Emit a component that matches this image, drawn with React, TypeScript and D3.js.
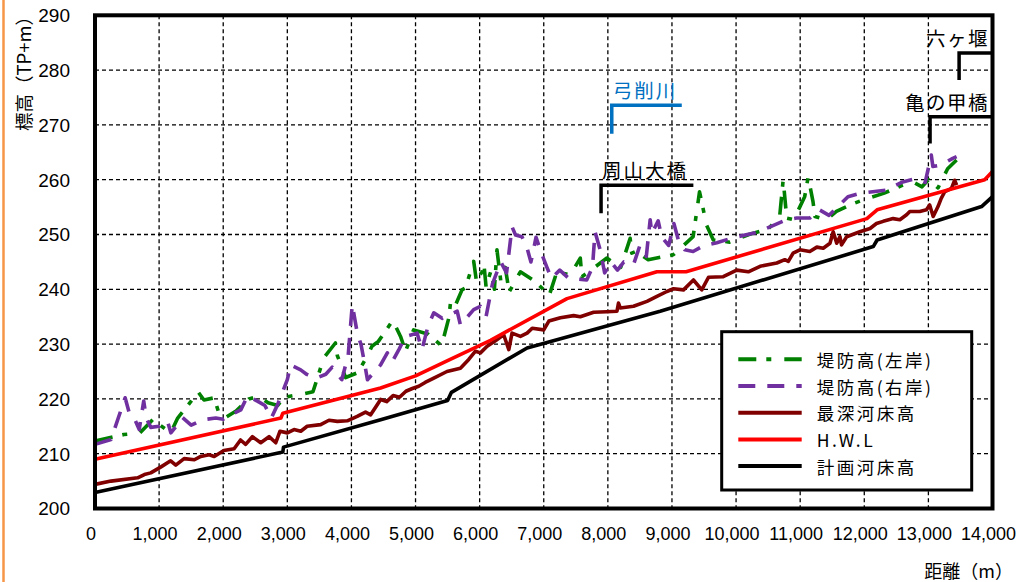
import * as d3 from "d3";

type Pt = [number, number];

// 距離(m), 標高(TP+m)
const leftBank: Pt[] = [
  [0, 212.3], [450, 213.5], [700, 213.8], [900, 216.2], [1180, 213.8], [1290, 216.5],
  [1500, 219.6], [1600, 221.4], [1700, 219.8], [1860, 220.2], [1940, 217.1], [2020, 216.5],
  [2200, 217.8], [2400, 220.0], [2550, 220.5], [2700, 219.3], [2850, 218.8], [2950, 220.3],
  [3200, 220.8], [3400, 221.3], [3570, 227.5], [3750, 230.2], [3780, 227.9], [3910, 223.9],
  [4100, 224.8], [4250, 227.9], [4320, 229.6], [4420, 230.5], [4650, 234.4], [4700, 233.0],
  [4766, 231.4], [4845, 228.7], [4970, 232.6], [5200, 231.8], [5415, 229.6], [5440, 231.2],
  [5520, 234.8], [5545, 237.5], [5600, 236.5], [5725, 239.9], [5780, 240.3], [5907, 245.1],
  [5950, 241.5], [5985, 242.3], [6040, 243.2], [6065, 244.8], [6100, 240.5], [6180, 243.5],
  [6230, 240.0], [6270, 247.2], [6330, 241.5], [6400, 244.0], [6460, 239.5], [6635, 243.2],
  [6868, 241.4], [6975, 240.2], [7080, 238.7], [7205, 243.2], [7413, 242.6], [7570, 245.7],
  [7595, 242.3], [7700, 243.2], [7985, 245.7], [8090, 244.8], [8200, 244.0], [8348, 249.3],
  [8372, 246.6], [8500, 247.2], [8555, 246.0], [8630, 245.4], [9020, 246.3], [9330, 249.6],
  [9430, 257.8], [9540, 251.7], [9645, 249.0], [9900, 248.6], [10200, 250.0], [10500, 251.0],
  [10680, 253.3], [10735, 260.0], [10790, 253.0], [10900, 252.7], [11070, 256.9], [11125, 260.5],
  [11200, 256.0], [11230, 253.3], [11410, 252.7], [11565, 254.2], [11775, 255.4], [11980, 256.3],
  [12300, 257.5], [12600, 259.0], [12760, 259.6], [12900, 258.7], [13000, 260.0], [13150, 258.5],
  [13300, 262.0], [13440, 263.6],
];

const rightBank: Pt[] = [
  [0, 211.7], [250, 212.6], [470, 220.2], [535, 217.4], [600, 216.8], [690, 214.4],
  [760, 219.6], [800, 216.5], [870, 214.8], [1000, 215.0], [1130, 216.0], [1183, 213.8],
  [1287, 215.3], [1365, 216.6], [1500, 215.2], [1677, 216.2], [1884, 216.5], [2000, 216.3],
  [2118, 217.1], [2274, 218.0], [2378, 220.5], [2534, 219.6], [2650, 218.8], [2750, 216.5],
  [2850, 219.0], [3000, 223.5], [3053, 226.2], [3208, 225.3], [3300, 224.5], [3450, 223.8],
  [3600, 224.5], [3700, 225.8], [3850, 223.5], [3950, 228.0], [4013, 237.2], [4090, 232.1],
  [4150, 229.9], [4200, 226.8], [4250, 223.5], [4455, 226.2], [4560, 228.4], [4636, 226.8],
  [4740, 229.0], [4845, 231.4], [5025, 232.0], [5100, 229.0], [5200, 233.5], [5285, 235.7],
  [5415, 234.7], [5518, 235.3], [5650, 236.0], [5700, 233.5], [5907, 236.3], [6012, 236.9],
  [6100, 235.0], [6200, 241.0], [6330, 245.0], [6420, 243.0], [6505, 251.4], [6560, 249.9],
  [6660, 249.6], [6740, 247.5], [6800, 245.0], [6880, 249.5], [6950, 247.0], [7050, 244.0],
  [7120, 242.0], [7250, 243.5], [7390, 242.0], [7670, 241.7], [7760, 244.0], [7800, 250.5],
  [7880, 247.2], [7950, 243.0], [8050, 245.0], [8150, 243.5], [8250, 245.0], [8400, 244.5],
  [8500, 248.0], [8600, 246.0], [8660, 252.7], [8686, 250.2], [8785, 252.5], [8840, 249.5],
  [8950, 248.0], [9030, 252.0], [9100, 249.0], [9200, 247.2], [9330, 246.9], [9500, 248.0],
  [9700, 248.5], [9950, 249.4], [10300, 250.3], [10530, 251.4], [10790, 252.7], [10945, 253.0],
  [11150, 253.0], [11300, 254.5], [11450, 253.5], [11745, 256.9], [11930, 257.5], [12345, 258.1],
  [12600, 259.6], [12810, 260.2], [12950, 259.5], [13045, 264.5], [13070, 262.4], [13200, 262.7],
  [13380, 263.9], [13440, 264.2],
];

const deepestBed: Pt[] = [
  [0, 204.4], [250, 205.0], [665, 205.6], [770, 206.2], [870, 206.5], [1030, 207.6],
  [1180, 208.7], [1260, 207.9], [1390, 209.1], [1550, 208.9], [1650, 209.5], [1780, 209.8],
  [1860, 209.5], [2010, 210.6], [2170, 210.9], [2270, 212.5], [2350, 211.7], [2455, 213.1],
  [2585, 212.0], [2715, 213.1], [2820, 212.0], [2886, 214.1], [3000, 213.8], [3105, 214.4],
  [3210, 214.1], [3310, 215.0], [3520, 215.3], [3650, 216.1], [3780, 215.9], [3935, 216.0],
  [4090, 216.8], [4220, 217.6], [4300, 217.1], [4400, 218.9], [4455, 219.9], [4550, 219.5],
  [4650, 220.6], [4750, 220.3], [4850, 221.4], [4950, 221.9], [5050, 222.3], [5150, 223.0],
  [5285, 223.8], [5490, 225.0], [5700, 225.6], [5830, 227.2], [5935, 228.7], [6012, 228.4],
  [6117, 229.6], [6246, 230.6], [6375, 231.7], [6455, 229.0], [6505, 232.0], [6636, 231.4],
  [6740, 232.0], [6820, 232.9], [7000, 232.6], [7080, 234.2], [7260, 234.8], [7466, 235.2],
  [7570, 235.0], [7778, 235.8], [7986, 235.9], [8142, 236.0], [8166, 237.5], [8193, 236.6],
  [8400, 236.9], [8610, 237.8], [8765, 238.7], [8920, 239.6], [9024, 240.1], [9180, 239.9],
  [9335, 241.7], [9465, 239.9], [9570, 242.2], [9800, 242.3], [10010, 243.5], [10190, 243.2],
  [10375, 244.2], [10635, 244.8], [10760, 245.4], [10815, 245.1], [10890, 246.6], [10995, 247.2],
  [11150, 246.9], [11260, 247.7], [11360, 247.5], [11465, 248.4], [11515, 250.5], [11570, 248.4],
  [11620, 249.6], [11645, 248.1], [11725, 249.6], [11930, 250.5], [12090, 251.1], [12190, 252.0],
  [12295, 252.4], [12450, 252.9], [12555, 252.7], [12660, 253.6], [12710, 254.2], [12865, 254.2],
  [12970, 254.5], [13020, 255.4], [13075, 253.3], [13150, 255.1], [13200, 256.6], [13255, 257.8],
  [13305, 258.1], [13360, 258.4], [13410, 259.9], [13440, 259.0],
];

const hwl: Pt[] = [
  [0, 209.0], [2900, 216.5], [2930, 217.4], [4455, 222.0], [5000, 224.2], [5500, 227.0],
  [6170, 230.7], [7363, 238.3], [8765, 243.2], [9220, 243.2], [12040, 252.9], [12200, 254.5],
  [13878, 260.0], [14000, 261.5],
];

const plannedBed: Pt[] = [
  [0, 202.9], [2930, 210.3], [2940, 211.2], [4455, 216.2], [5500, 219.7], [5560, 221.2],
  [6740, 229.3], [8816, 236.0], [12140, 247.8], [12200, 249.0], [13830, 255.1], [14000, 256.9],
];

const seriesLabels = ["堤防高(左岸)", "堤防高(右岸)", "最深河床高", "H.W.L", "計画河床高"];

const landmarkNames = ["弓削川", "周山大橋", "亀の甲橋", "六ヶ堰"];
const landmarkDistance = [8061, 7894, 13026, 13479];
const landmarkTop = [273.6, 259.0, 271.5, 283.1];
const landmarkBottom = [268.4, 253.9, 266.6, 278.2];
const landmarkEnd = [9153, 9334, 14000, 14000];

const xTicks = d3.range(0, 14001, 1000);
const yTicks = d3.range(200, 291, 10);

const W = 1019;
const H = 582;
const plot = { left: 95, right: 992.5, top: 15.3, bottom: 508.5 };
const jp = "'Noto Sans CJK JP', 'Noto Sans', sans-serif";
const num = "'Liberation Sans', Arial, sans-serif";

const styles = [
  { color: "#008000", dash: "18,10,5,13" },
  { color: "#7030A0", dash: "17,12" },
  { color: "#800000", dash: "" },
  { color: "#FF0000", dash: "" },
  { color: "#000000", dash: "" },
];
const landmarkColors = ["#0070C0", "#000", "#000", "#000"];

export default function App() {
  const x = d3.scaleLinear().domain([0, 14000]).range([plot.left, plot.right]);
  const y = d3.scaleLinear().domain([200, 290]).range([plot.bottom, plot.top]);
  const line = d3
    .line<Pt>()
    .x((d) => x(d[0]))
    .y((d) => y(d[1]));

  const series = [leftBank, rightBank, deepestBed, hwl, plannedBed];

  const legend = { x: 721.7, y: 331.7, w: 250, h: 158.3 };

  return (
    <svg
      width={W}
      height={H}
      style={{ position: "absolute", left: 0, top: 0, background: "#fff" }}
      fontFamily={jp}
    >
      <line x1={3.5} x2={3.5} y1={0} y2={H} stroke="#F79646" strokeWidth={2.5} />

      {/* grid */}
      {xTicks.slice(1, -1).map((t) => (
        <line key={"gx" + t} x1={x(t)} x2={x(t)} y1={plot.top} y2={plot.bottom}
          stroke="#000" strokeWidth={1.3} strokeDasharray="4,3" />
      ))}
      {yTicks.slice(1, -1).map((t) => (
        <line key={"gy" + t} x1={plot.left} x2={plot.right} y1={y(t)} y2={y(t)}
          stroke="#000" strokeWidth={1.3} strokeDasharray="4,3" />
      ))}

      {/* series */}
      {series.map((s, i) => (
        <path key={"s" + i} d={line(s) ?? ""} fill="none" stroke={styles[i].color}
          strokeWidth={3.6} strokeDasharray={styles[i].dash || undefined}
          strokeLinejoin="round" />
      ))}

      {/* landmarks */}
      {landmarkNames.map((name, i) => {
        const lx = x(landmarkDistance[i]);
        const top = y(landmarkTop[i]);
        const anchorEnd = landmarkEnd[i] >= 14000;
        return (
          <g key={name}>
            <polyline
              points={`${lx},${y(landmarkBottom[i])} ${lx},${top} ${x(landmarkEnd[i])},${top}`}
              fill="none" stroke={landmarkColors[i]} strokeWidth={3.5} />
            <text x={anchorEnd ? 989 : lx + 1} y={top - 7} fontSize={19.5}
              letterSpacing={anchorEnd ? 1.5 : 2} textAnchor={anchorEnd ? "end" : "start"}
              fill={landmarkColors[i]}>
              {name}
            </text>
          </g>
        );
      })}

      {/* frame */}
      <rect x={plot.left} y={plot.top} width={plot.right - plot.left}
        height={plot.bottom - plot.top} fill="none" stroke="#000" strokeWidth={4} />

      {/* axes labels */}
      {yTicks.map((t) => (
        <text key={"yl" + t} x={70} y={y(t)} dy="0.36em" textAnchor="end" fontSize={19}
          fontFamily={num}>
          {t}
        </text>
      ))}
      {xTicks.map((t) => (
        <text key={"xl" + t} x={x(t) - 4} y={540} textAnchor="middle" fontSize={18}
          fontFamily={num}>
          {d3.format(",")(t)}
        </text>
      ))}
      <text transform="translate(23,69) rotate(-90)" textAnchor="middle"
        dominantBaseline="central" fontSize={18.5}>
        標高（TP+m）
      </text>
      <text x={1013} y={578} textAnchor="end" fontSize={18}>
        距離（m）
      </text>

      {/* legend */}
      <rect x={legend.x} y={legend.y} width={legend.w} height={legend.h}
        fill="#fff" stroke="#000" strokeWidth={3} />
      {seriesLabels.map((label, i) => {
        const ry = 359.3 + i * 26.7;
        return (
          <g key={label}>
            <line x1={738.3} x2={801.7} y1={ry} y2={ry} stroke={styles[i].color}
              strokeWidth={4} strokeDasharray={styles[i].dash || undefined} />
            <text x={816.7} y={ry} dominantBaseline="central" fontSize={17.5}
              letterSpacing={2.5}>
              {label}
            </text>
          </g>
        );
      })}
    </svg>
  );
}
